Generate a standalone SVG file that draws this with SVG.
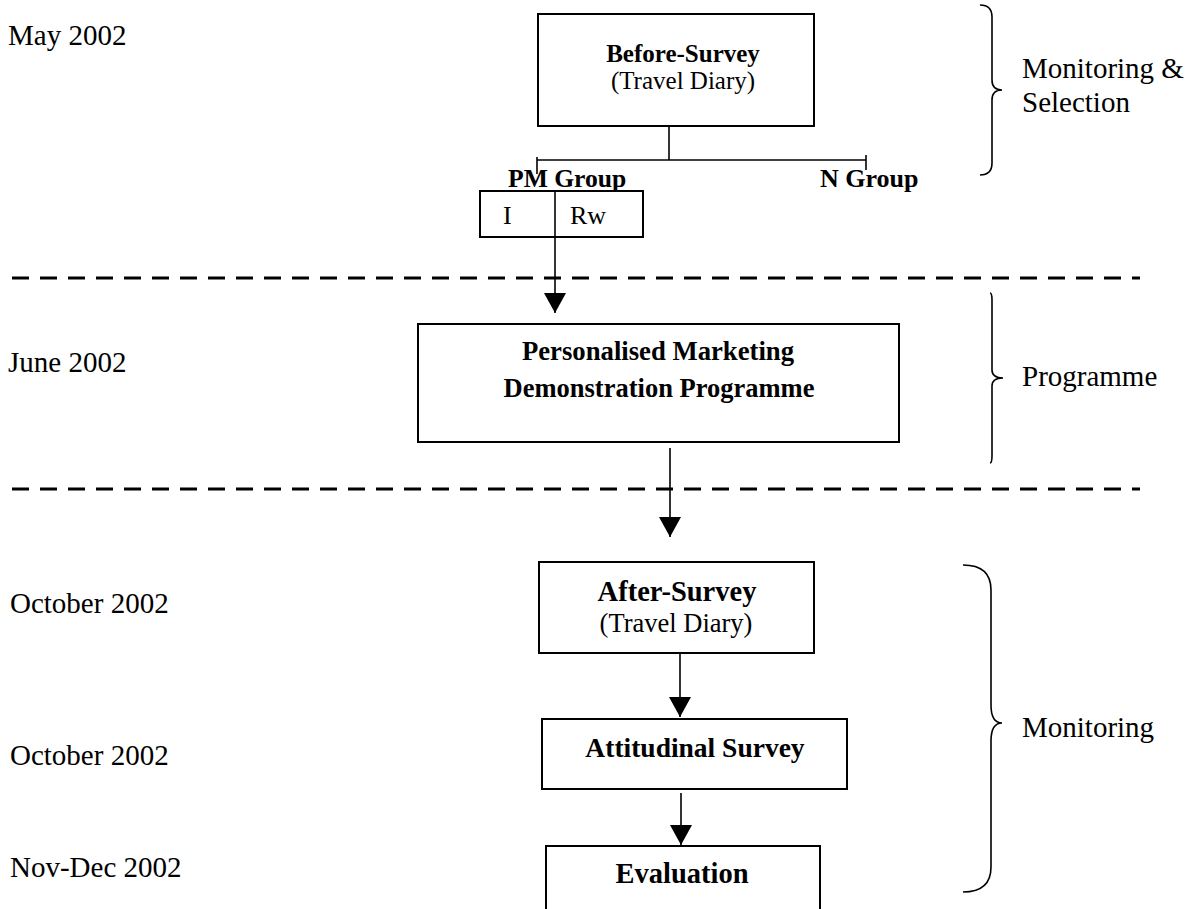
<svg xmlns="http://www.w3.org/2000/svg" width="1200" height="909" viewBox="0 0 1200 909">
  <style>
    .box { fill: #fff; stroke: #000; stroke-width: 2; }
    .t { font-family: "Liberation Serif", "Times New Roman", serif; fill: #000; }
    .b { font-weight: bold; }
    .mid { text-anchor: middle; }
    .line { stroke: #000; stroke-width: 1.6; fill: none; }
    .dash { stroke: #000; stroke-width: 3; stroke-dasharray: 17 11; fill: none; }
    .brace { stroke: #000; stroke-width: 1.6; fill: none; }
  </style>
  <defs>
    <!-- solid triangular head, drawn pointing along +x so orient="auto" follows the line -->
    <marker id="arrow" markerUnits="userSpaceOnUse" markerWidth="20" markerHeight="22" refX="20" refY="11" orient="auto" viewBox="0 0 20 22">
      <path d="M0,0 L20,11 L0,22 Z" fill="#000"/>
    </marker>
  </defs>
  <rect width="1200" height="909" fill="#fff"/>

  <!-- date column -->
  <g id="dates" class="t" font-size="29">
    <text x="8" y="45">May 2002</text>
    <text x="8" y="372">June 2002</text>
    <text x="10" y="613">October 2002</text>
    <text x="10" y="765">October 2002</text>
    <text x="10" y="877">Nov-Dec 2002</text>
  </g>

  <!-- phase separators -->
  <g id="separators">
    <line class="dash" x1="12" y1="278" x2="1140" y2="278"/>
    <line class="dash" x1="12" y1="489" x2="1140" y2="489"/>
  </g>

  <!-- connectors -->
  <g id="connectors">
    <polyline class="line" points="669,127 669,160"/>
    <line class="line" x1="537" y1="160" x2="866" y2="160"/>
    <line class="line" x1="537" y1="157" x2="537" y2="174"/>
    <line class="line" x1="866" y1="155" x2="866" y2="170"/>
    <line class="line" x1="555" y1="237" x2="555" y2="313" marker-end="url(#arrow)"/>
    <line class="line" x1="670" y1="448" x2="670" y2="537" marker-end="url(#arrow)"/>
    <line class="line" x1="680" y1="650" x2="680" y2="717" marker-end="url(#arrow)"/>
    <line class="line" x1="681" y1="793" x2="681" y2="845" marker-end="url(#arrow)"/>
  </g>

  <g id="before-survey">
    <rect class="box" x="538" y="14" width="276" height="112"/>
    <text class="t b mid" x="683" y="62" font-size="25">Before-Survey</text>
    <text class="t mid" x="683" y="89" font-size="25">(Travel Diary)</text>
  </g>

  <g id="groups">
    <text class="t b" x="508" y="187" font-size="25.6">PM Group</text>
    <text class="t b" x="820" y="187" font-size="26">N Group</text>
  </g>

  <g id="pm-split">
    <rect class="box" x="480" y="191" width="163" height="46"/>
    <line class="line" x1="555" y1="191" x2="555" y2="237"/>
    <text class="t" x="503" y="224" font-size="26">I</text>
    <text class="t" x="570" y="224" font-size="26">Rw</text>
  </g>

  <g id="pm-programme">
    <rect class="box" x="418" y="324" width="481" height="118"/>
    <text class="t b mid" x="658" y="360" font-size="26.7">Personalised Marketing</text>
    <text class="t b mid" x="659" y="397" font-size="26.5">Demonstration Programme</text>
  </g>

  <g id="after-survey">
    <rect class="box" x="539" y="562" width="275" height="91"/>
    <text class="t b mid" x="677" y="601" font-size="28.5">After-Survey</text>
    <text class="t mid" x="676" y="632" font-size="26.5">(Travel Diary)</text>
  </g>

  <g id="attitudinal-survey">
    <rect class="box" x="542" y="719" width="305" height="70"/>
    <text class="t b mid" x="695" y="757" font-size="27.5">Attitudinal Survey</text>
  </g>

  <g id="evaluation">
    <rect class="box" x="546" y="846" width="274" height="80"/>
    <text class="t b mid" x="682" y="883" font-size="28.5">Evaluation</text>
  </g>

  <!-- phase braces -->
  <g id="brace-selection">
    <path class="brace" d="M980,5 Q992,5 992,17 L992,80 Q992,90 1002,90 Q992,90 992,100 L992,163 Q992,175 980,175"/>
    <text class="t" x="1022" y="78" font-size="29">Monitoring &amp;</text>
    <text class="t" x="1022" y="112" font-size="29">Selection</text>
  </g>
  <g id="brace-programme">
    <path class="brace" d="M990,293 Q992,293 992,300 L992,370 Q992,378 1003,378 Q992,378 992,386 L992,456 Q992,463 990,463"/>
    <text class="t" x="1022" y="386" font-size="29">Programme</text>
  </g>
  <g id="brace-monitoring">
    <path class="brace" d="M963,565 Q991,565 991,590 L991,705 Q991,723 1002,723 Q991,723 991,741 L991,867 Q991,892 963,892"/>
    <text class="t" x="1022" y="737" font-size="29">Monitoring</text>
  </g>
</svg>
